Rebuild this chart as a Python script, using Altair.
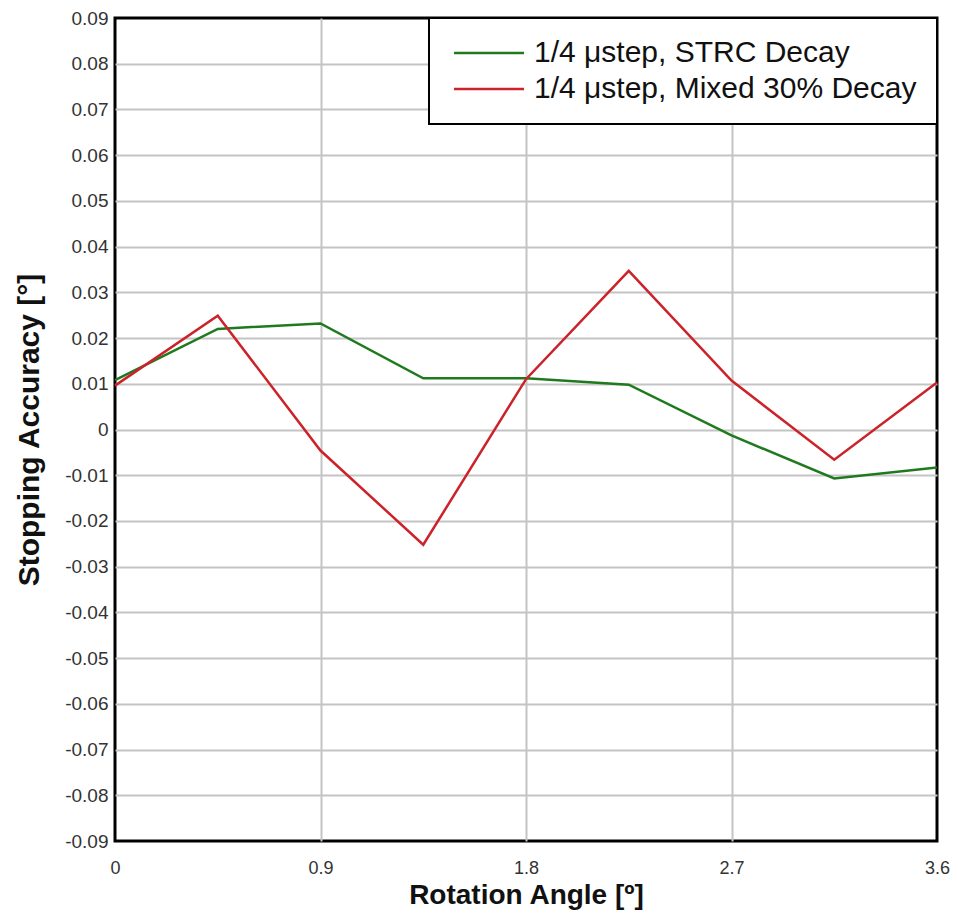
import altair as alt
import pandas as pd

angle = [0, 0.45, 0.9, 1.35, 1.8, 2.25, 2.7, 3.15, 3.6]
strc = [0.0108, 0.022, 0.0232, 0.0112, 0.0112, 0.0098, -0.0013, -0.0107, -0.0083]
mixed = [0.0096, 0.0249, -0.0046, -0.0252, 0.011, 0.0347, 0.0107, -0.0066, 0.0103]
series_names = ["1/4 \u03bcstep, STRC Decay", "1/4 \u03bcstep, Mixed 30% Decay"]
series_colors = ["#1f7a1f", "#cc2229"]
x_ticks = [0, 0.9, 1.8, 2.7, 3.6]
y_ticks = [round(-0.09 + 0.01 * i, 2) for i in range(19)]

rows = []
for name, vals in zip(series_names, [strc, mixed]):
    for a, v in zip(angle, vals):
        rows.append({"angle": a, "acc": v, "series": name})
df = pd.DataFrame(rows)

FONT = "Liberation Sans"

x_grid_op = {"condition": {"test": "datum.value <= 0 || datum.value >= 3.6", "value": 0}, "value": 1}
y_grid_op = {"condition": {"test": "abs(datum.value) >= 0.0899", "value": 0}, "value": 1}

chart = alt.Chart(df).mark_line(strokeWidth=2.5).encode(
    x=alt.X("angle:Q", scale=alt.Scale(domain=[0, 3.6], nice=False, zero=False),
            axis=alt.Axis(values=x_ticks, title="Rotation Angle [\u00ba]",
                          labelExpr="datum.value == 0 ? '0' : format(datum.value, '.1f')",
                          labelFontSize=18, labelPadding=18, titleFontSize=28,
                          titlePadding=4, labelFlush=False, gridOpacity=x_grid_op)),
    y=alt.Y("acc:Q", scale=alt.Scale(domain=[-0.09, 0.09], nice=False, zero=False),
            axis=alt.Axis(values=y_ticks, title="Stopping Accuracy [\u00b0]",
                          labelExpr="datum.value == 0 ? '0' : (datum.value < 0 ? '-' : '') + format(abs(datum.value), '.2f')",
                          labelFontSize=19, labelPadding=7, titleFontSize=30,
                          titlePadding=20, labelFlush=False, gridOpacity=y_grid_op)),
    color=alt.Color("series:N",
                    scale=alt.Scale(domain=series_names, range=series_colors),
                    legend=alt.Legend(title=None, orient="top-right", offset=0,
                                      symbolType="M-1,0H6", symbolSize=400,
                                      symbolStrokeWidth=2.5, labelOffset=55,
                                      labelFontSize=30, labelLimit=1000,
                                      rowPadding=6, padding=20,
                                      strokeColor="black", fillColor="white",
                                      cornerRadius=0)),
).properties(
    width=822, height=823,
    autosize=alt.AutoSizeParams(type="none"),
    padding={"left": 107, "top": 10, "right": 13, "bottom": 76},
).configure(
    font=FONT,
).configure_view(
    stroke="black", strokeWidth=3,
).configure_axis(
    grid=True, gridColor="#c4c4c4", gridWidth=2, domain=False, ticks=False,
    labelColor="#333333", titleColor="#111111", labelFont=FONT, titleFont=FONT,
    titleFontWeight="bold",
).configure_legend(
    strokeWidth=2, labelColor="#111111", labelFont=FONT,
)

chart.save("out.html", embed_options={"renderer": "svg", "actions": False})
